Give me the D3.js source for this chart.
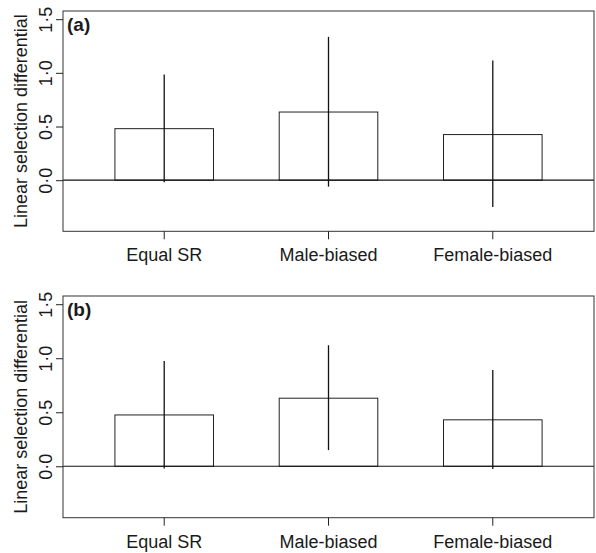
<!DOCTYPE html>
<html>
<head>
<meta charset="utf-8">
<script src="https://cdn.jsdelivr.net/npm/d3@7"></script>
<style>
  body { margin: 0; background: #fff; }
  text { font-family: "Liberation Sans", Arial, sans-serif; fill: #1a1a1a; }
</style>
</head>
<body>
<div id="chart"></div>
<script>
const WIDTH = 596;
const HEIGHT = 553;

// groups and values
const groups = ["Equal SR", "Male-biased", "Female-biased"];
const yTicks = [0, 0.5, 1, 1.5];
const yTickLabels = ["0·0", "0·5", "1·0", "1·5"];

const meanA = [0.48, 0.635, 0.425];
const lowA = [-0.02, -0.06, -0.25];
const highA = [0.985, 1.335, 1.115];

const meanB = [0.475, 0.63, 0.43];
const lowB = [-0.02, 0.15, -0.025];
const highB = [0.975, 1.12, 0.89];

const panels = [
  { tag: "(a)", top: 11, height: 220.3, mean: meanA, low: lowA, high: highA },
  { tag: "(b)", top: 296, height: 221.7, mean: meanB, low: lowB, high: highB }
];

const left = 63, right = 594;

const svg = d3.select("#chart").append("svg")
  .attr("width", WIDTH)
  .attr("height", HEIGHT);

let x = d3.scaleBand()
  .domain(groups)
  .range([left, right])
  .paddingInner(0.4)
  .paddingOuter(0.316);

panels.forEach(p => {
  let y = d3.scaleLinear()
    .domain([-0.476, 1.576])
    .range([p.top + p.height, p.top]);

  let g = svg.append("g");

  // bars
  groups.forEach((name, i) => {
    g.append("rect")
      .attr("x", x(name))
      .attr("y", y(p.mean[i]))
      .attr("width", x.bandwidth())
      .attr("height", y(0) - y(p.mean[i]))
      .attr("fill", "white")
      .attr("stroke", "#222")
      .attr("stroke-width", 1);
  });

  // zero line
  g.append("line")
    .attr("x1", left).attr("x2", right)
    .attr("y1", y(0)).attr("y2", y(0))
    .attr("stroke", "#111")
    .attr("stroke-width", 1.2);

  // error bars
  groups.forEach((name, i) => {
    let cx = x(name) + x.bandwidth() / 2;
    g.append("line")
      .attr("x1", cx).attr("x2", cx)
      .attr("y1", y(p.low[i])).attr("y2", y(p.high[i]))
      .attr("stroke", "#111")
      .attr("stroke-width", 1.3);
  });

  // box
  g.append("rect")
    .attr("x", left).attr("y", p.top)
    .attr("width", right - left).attr("height", p.height)
    .attr("fill", "none")
    .attr("stroke", "#333")
    .attr("stroke-width", 1);

  // y axis
  let yAxis = g.append("g")
    .attr("transform", "translate(" + left + ",0)")
    .call(d3.axisLeft(y).tickValues(yTicks).tickSize(7)
      .tickFormat((d, i) => yTickLabels[i]));
  yAxis.select(".domain").remove();
  yAxis.selectAll("line").attr("stroke", "#222");
  yAxis.selectAll("text")
    .attr("transform", "rotate(-90)")
    .attr("x", 0).attr("y", -11).attr("dy", 0)
    .attr("text-anchor", "middle")
    .style("font-size", "18px")
    .style("font-family", "'Liberation Sans', Arial, sans-serif")
    .attr("fill", "#1a1a1a");

  // x axis
  let xAxis = g.append("g")
    .attr("transform", "translate(0," + (p.top + p.height) + ")")
    .call(d3.axisBottom(x).tickSize(8).tickSizeOuter(0));
  xAxis.select(".domain").remove();
  xAxis.selectAll("line").attr("stroke", "#222");
  xAxis.selectAll("text")
    .attr("y", 30).attr("dy", 0)
    .style("font-size", "18px")
    .style("font-family", "'Liberation Sans', Arial, sans-serif")
    .attr("fill", "#1a1a1a");

  // y title
  g.append("text")
    .attr("transform", "translate(27," + (p.top + p.height / 2) + ") rotate(-90)")
    .attr("text-anchor", "middle")
    .style("font-size", "18px")
    .text("Linear selection differential");

  // panel tag
  g.append("text")
    .attr("x", 67)
    .attr("y", p.top + 19.5)
    .style("font-size", "19px")
    .style("font-weight", "bold")
    .text(p.tag);
});
</script>
</body>
</html>
